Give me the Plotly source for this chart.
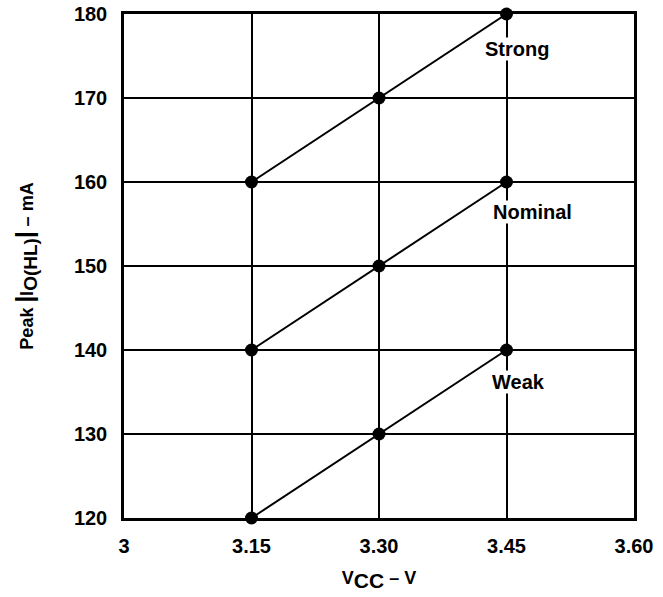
import plotly.graph_objects as go

vcc = [3.15, 3.30, 3.45]
weak = [120, 130, 140]
nominal = [140, 150, 160]
strong = [160, 170, 180]
series = [("Strong", strong), ("Nominal", nominal), ("Weak", weak)]
label_pos = {"Strong": (3.462, 175.8), "Nominal": (3.481, 156.4), "Weak": (3.464, 136.25)}

x_ticks = [3.0, 3.15, 3.30, 3.45, 3.60]
x_tick_text = ["3", "3.15", "3.30", "3.45", "3.60"]
y_ticks = [120, 130, 140, 150, 160, 170, 180]

FONT = "Liberation Sans, Arial, sans-serif"

fig = go.Figure()
for name, vals in series:
    fig.add_trace(go.Scatter(
        x=vcc, y=vals, mode="lines+markers", name=name,
        line=dict(color="black", width=2),
        marker=dict(color="black", size=13),
        cliponaxis=False, showlegend=False,
    ))
    lx, ly = label_pos[name]
    fig.add_annotation(
        x=lx, y=ly, text="<b>%s</b>" % name, showarrow=False,
        xanchor="center", yanchor="middle",
        font=dict(family=FONT, size=20, color="black"),
        bgcolor="white", borderpad=0,
    )

fig.update_xaxes(
    range=[3.0, 3.6], tickvals=x_ticks, ticktext=["<b>%s</b>" % t for t in x_tick_text],
    showgrid=True, gridcolor="black", gridwidth=2,
    showline=True, linecolor="black", linewidth=2.5, mirror=True,
    zeroline=False, ticks="outside", ticklen=8, tickcolor="rgba(0,0,0,0)",
    ticklabeloverflow="allow", automargin=False,
    tickfont=dict(family=FONT, size=20, color="black"),
    title=dict(text='<b>V<sub><span style="font-size:21px">CC</span></sub> – V</b>',
               font=dict(family=FONT, size=18, color="black"), standoff=16),
)
fig.update_yaxes(
    range=[120, 180], tickvals=y_ticks, ticktext=["<b>%d</b>" % t for t in y_ticks],
    showgrid=True, gridcolor="black", gridwidth=2,
    showline=True, linecolor="black", linewidth=2.5, mirror=True,
    zeroline=False, ticks="outside", ticklen=10, tickcolor="rgba(0,0,0,0)",
    ticklabeloverflow="allow", automargin=False,
    tickfont=dict(family=FONT, size=20, color="black"),
    title=dict(text='<b>Peak <span style="font-size:24px">|</span>I<sub><span style="font-size:19px">O(HL)</span></sub><span style="font-size:24px">|</span> – mA</b>',
               font=dict(family=FONT, size=18, color="black"), standoff=36),
)
fig.update_layout(
    width=663, height=597,
    margin=dict(l=124, r=29, t=14, b=79),
    plot_bgcolor="white", paper_bgcolor="white",
)
fig.write_html("out.html", config={"displayModeBar": False},
               post_script="document.body.style.margin='0';")
